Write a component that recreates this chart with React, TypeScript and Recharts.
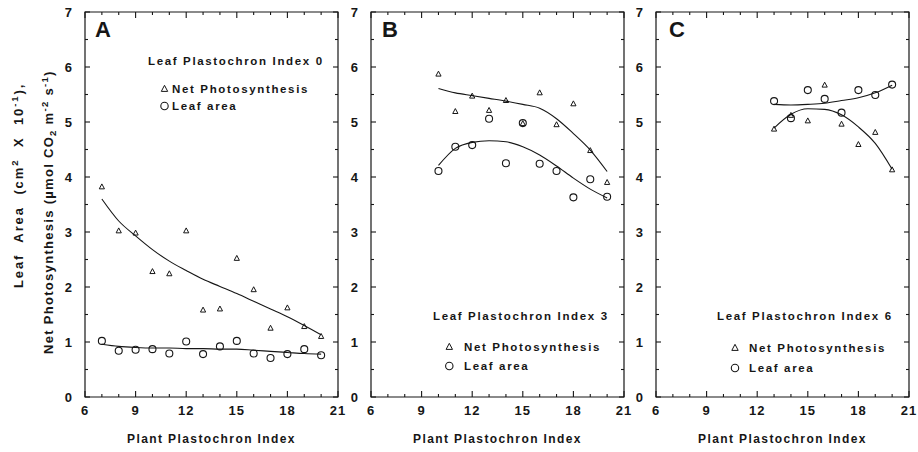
import React from "react";
import {
  ComposedChart,
  Scatter,
  Line,
  XAxis,
  YAxis,
  ReferenceArea,
  Legend,
} from "recharts";

const FONT = "'Liberation Sans', Arial, Helvetica, sans-serif";
const INK = "#161616";

const CHART_H = 452;
const PLOT_TOP = 12;
const PLOT_H = 385;
const PLOT_W = 253;

// axis ticks
const X_TICKS = [6, 7, 8, 9, 10, 11, 12, 13, 14, 15, 16, 17, 18, 19, 20, 21];
const Y_TICKS = [0, 0.5, 1, 1.5, 2, 2.5, 3, 3.5, 4, 4.5, 5, 5.5, 6, 6.5, 7];

// panel A - leaf plastochron index 0
const A_X = [7, 8, 9, 10, 11, 12, 13, 14, 15, 16, 17, 18, 19, 20];
const A_PHOTO = [3.82, 3.02, 2.98, 2.28, 2.24, 3.02, 1.58, 1.6, 2.52, 1.95, 1.25, 1.62, 1.28, 1.1];
const A_AREA = [1.02, 0.84, 0.86, 0.87, 0.79, 1.01, 0.78, 0.92, 1.02, 0.79, 0.71, 0.78, 0.87, 0.76];
const A_PHOTO_FIT = [3.6, 3.2, 2.93, 2.68, 2.47, 2.3, 2.14, 2.01, 1.88, 1.74, 1.6, 1.46, 1.3, 1.13];
const A_AREA_FIT = [0.96, 0.92, 0.9, 0.89, 0.89, 0.88, 0.88, 0.87, 0.87, 0.85, 0.83, 0.81, 0.79, 0.78];

// panel B - leaf plastochron index 3
const B_X = [10, 11, 12, 13, 14, 15, 16, 17, 18, 19, 20];
const B_PHOTO = [5.87, 5.19, 5.47, 5.21, 5.39, 4.97, 5.53, 4.95, 5.33, 4.48, 3.9];
const B_AREA = [4.11, 4.55, 4.58, 5.06, 4.25, 4.98, 4.24, 4.11, 3.63, 3.96, 3.64];
const B_PHOTO_FIT = [5.61, 5.53, 5.48, 5.43, 5.38, 5.32, 5.25, 5.06, 4.79, 4.49, 4.1];
const B_AREA_FIT = [4.21, 4.52, 4.63, 4.66, 4.64, 4.55, 4.4, 4.2, 3.98, 3.78, 3.62];

// panel C - leaf plastochron index 6
const C_X = [13, 14, 15, 16, 17, 18, 19, 20];
const C_PHOTO = [4.87, 5.12, 5.02, 5.67, 4.96, 4.59, 4.81, 4.13];
const C_AREA = [5.38, 5.07, 5.58, 5.42, 5.17, 5.58, 5.49, 5.68];
const C_PHOTO_FIT = [4.89, 5.14, 5.24, 5.23, 5.13, 4.91, 4.61, 4.14];
const C_AREA_FIT = [5.32, 5.31, 5.32, 5.34, 5.39, 5.44, 5.53, 5.67];

const textStyle = {
  fontFamily: FONT,
  fontWeight: 700,
  fill: INK,
};

function TriangleMark({ cx, cy, s = 2.6 }: any) {
  return (
    <polygon
      points={`${cx},${cy - s * 1.15} ${cx - s},${cy + s * 0.75} ${cx + s},${cy + s * 0.75}`}
      fill="none"
      stroke={INK}
      strokeWidth={1}
    />
  );
}

function CircleMark({ cx, cy, r = 3.5 }: any) {
  return <circle cx={cx} cy={cy} r={r} fill="none" stroke={INK} strokeWidth={1.1} />;
}

function XTick(props: any) {
  const { x, y, payload } = props;
  const v = payload.value;
  const major = v % 3 === 0;
  const len = major ? 6 : 3;
  return (
    <g>
      <line x1={x} x2={x} y1={y} y2={y - len} stroke={INK} strokeWidth={1.1} />
      <line x1={x} x2={x} y1={y - PLOT_H} y2={y - PLOT_H + len} stroke={INK} strokeWidth={1.1} />
      {major && (
        <text x={x} y={y + 18} textAnchor="middle" fontSize={13} letterSpacing={1} style={textStyle}>
          {v}
        </text>
      )}
    </g>
  );
}

function YTick(props: any) {
  const { x, y, payload } = props;
  const v = payload.value;
  const major = Number.isInteger(v);
  const len = major ? 5 : 3;
  return (
    <g>
      <line x1={x} x2={x + len} y1={y} y2={y} stroke={INK} strokeWidth={1.1} />
      <line x1={x + PLOT_W} x2={x + PLOT_W - len} y1={y} y2={y} stroke={INK} strokeWidth={1.1} />
      {major && (
        <text x={x - 13} y={y + 4.5} textAnchor="end" fontSize={13} style={textStyle}>
          {v}
        </text>
      )}
    </g>
  );
}

type LegendPos = {
  titleX: number;
  titleY: number;
  symX: number;
  textX: number;
  row1Y: number;
  row2Y: number;
};

function LegendBlock({ title, pos }: { title: string; pos: LegendPos }) {
  const dx = (v: number) => v - pos.titleX;
  const dy = (v: number) => v - pos.titleY + 14;
  const fs = 11.5;
  const ls = 1.65;
  return (
    <svg width={200} height={66} style={{ display: "block", overflow: "visible" }}>
      <text x={0} y={14} fontSize={fs} letterSpacing={ls} style={textStyle}>
        {title}
      </text>
      <TriangleMark cx={dx(pos.symX)} cy={dy(pos.row1Y) - 4} s={3.2} />
      <text x={dx(pos.textX)} y={dy(pos.row1Y)} fontSize={fs} letterSpacing={ls} style={textStyle}>
        Net Photosynthesis
      </text>
      <CircleMark cx={dx(pos.symX)} cy={dy(pos.row2Y) - 4} r={3.7} />
      <text x={dx(pos.textX)} y={dy(pos.row2Y)} fontSize={fs} letterSpacing={ls} style={textStyle}>
        Leaf area
      </text>
    </svg>
  );
}

type PanelProps = {
  left: number;
  width: number;
  marginLeft: number;
  axisWidth: number;
  marginRight: number;
  xs: number[];
  photo: number[];
  area: number[];
  photoFit: number[];
  areaFit: number[];
  title: string;
  legend: LegendPos;
};

function Panel(p: PanelProps) {
  const rows = p.xs.map((x, i) => ({
    x,
    photo: p.photo[i],
    area: p.area[i],
    photoFit: p.photoFit[i],
    areaFit: p.areaFit[i],
  }));
  return (
    <div style={{ position: "absolute", left: p.left, top: 0 }}>
      <ComposedChart
        width={p.width}
        height={CHART_H}
        data={rows}
        margin={{ top: PLOT_TOP, right: p.marginRight, bottom: 0, left: p.marginLeft }}
      >
        <XAxis
          dataKey="x"
          type="number"
          domain={[6, 21]}
          ticks={X_TICKS}
          interval={0}
          allowDataOverflow
          height={CHART_H - PLOT_TOP - PLOT_H}
          axisLine={false}
          tickLine={false}
          tickSize={0}
          tickMargin={0}
          tick={<XTick />}
        />
        <YAxis
          type="number"
          domain={[0, 7]}
          ticks={Y_TICKS}
          interval={0}
          allowDataOverflow
          width={p.axisWidth}
          axisLine={false}
          tickLine={false}
          tickSize={0}
          tickMargin={0}
          tick={<YTick />}
        />
        <ReferenceArea x1={6} x2={21} y1={0} y2={7} fill="none" stroke={INK} strokeWidth={1.2} />
        <Line
          dataKey="photoFit"
          type="monotone"
          stroke={INK}
          strokeWidth={1.1}
          dot={false}
          activeDot={false}
          legendType="none"
          isAnimationActive={false}
        />
        <Line
          dataKey="areaFit"
          type="monotone"
          stroke={INK}
          strokeWidth={1.1}
          dot={false}
          activeDot={false}
          legendType="none"
          isAnimationActive={false}
        />
        <Scatter dataKey="photo" shape={<TriangleMark />} isAnimationActive={false} />
        <Scatter dataKey="area" shape={<CircleMark />} isAnimationActive={false} />
        <Legend
          layout="vertical"
          align="center"
          verticalAlign="middle"
          wrapperStyle={{
            left: p.legend.titleX - p.left,
            top: p.legend.titleY - 14,
            width: 200,
            height: 66,
          }}
          content={() => <LegendBlock title={p.title} pos={p.legend} />}
        />
      </ComposedChart>
    </div>
  );
}

export default function App() {
  return (
    <div
      style={{
        position: "absolute",
        left: 0,
        top: 0,
        width: 918,
        height: 452,
        background: "#fff",
        fontFamily: FONT,
      }}
    >
      <Panel
        left={0}
        width={350}
        marginLeft={55}
        axisWidth={30}
        marginRight={12}
        xs={A_X}
        photo={A_PHOTO}
        area={A_AREA}
        photoFit={A_PHOTO_FIT}
        areaFit={A_AREA_FIT}
        title="Leaf Plastochron Index 0"
        legend={{ titleX: 148, titleY: 65, symX: 164.5, textX: 172, row1Y: 93, row2Y: 110 }}
      />
      <Panel
        left={340}
        width={300}
        marginLeft={1}
        axisWidth={30}
        marginRight={16}
        xs={B_X}
        photo={B_PHOTO}
        area={B_AREA}
        photoFit={B_PHOTO_FIT}
        areaFit={B_AREA_FIT}
        title="Leaf Plastochron Index 3"
        legend={{ titleX: 433, titleY: 320, symX: 449.3, textX: 464, row1Y: 351, row2Y: 370 }}
      />
      <Panel
        left={625}
        width={293}
        marginLeft={0}
        axisWidth={31}
        marginRight={9}
        xs={C_X}
        photo={C_PHOTO}
        area={C_AREA}
        photoFit={C_PHOTO_FIT}
        areaFit={C_AREA_FIT}
        title="Leaf Plastochron Index 6"
        legend={{ titleX: 717, titleY: 320, symX: 735, textX: 749, row1Y: 352, row2Y: 372 }}
      />
      <svg
        width={918}
        height={452}
        style={{ position: "absolute", left: 0, top: 0, pointerEvents: "none" }}
      >
        <text x={95} y={37} fontSize={22} style={textStyle}>A</text>
        <text x={382} y={37} fontSize={22} style={textStyle}>B</text>
        <text x={669} y={37} fontSize={22} style={textStyle}>C</text>
        {[211.5, 497.5, 782.5].map((cx) => (
          <text key={cx} x={cx} y={443} textAnchor="middle" fontSize={12} letterSpacing={1.4} style={textStyle}>
            Plant Plastochron Index
          </text>
        ))}
        <text
          x={23}
          y={288}
          transform="rotate(-90 23 288)"
          fontSize={13}
          letterSpacing={1.9}
          wordSpacing={6}
          style={textStyle}
        >
          Leaf Area (cm
          <tspan dy={-5} fontSize={9.5}>2</tspan>
          <tspan dy={5}> X 10</tspan>
          <tspan dy={-5} fontSize={9.5}>-1</tspan>
          <tspan dy={5}>),</tspan>
        </text>
        <text
          x={53}
          y={354}
          transform="rotate(-90 53 354)"
          fontSize={13}
          letterSpacing={1.3}
          style={textStyle}
        >
          Net Photosynthesis (µmol CO
          <tspan dy={3} fontSize={9.5}>2</tspan>
          <tspan dy={-3}> m</tspan>
          <tspan dy={-5} fontSize={9.5}>-2</tspan>
          <tspan dy={5}> s</tspan>
          <tspan dy={-5} fontSize={9.5}>-1</tspan>
          <tspan dy={5}>)</tspan>
        </text>
      </svg>
    </div>
  );
}
